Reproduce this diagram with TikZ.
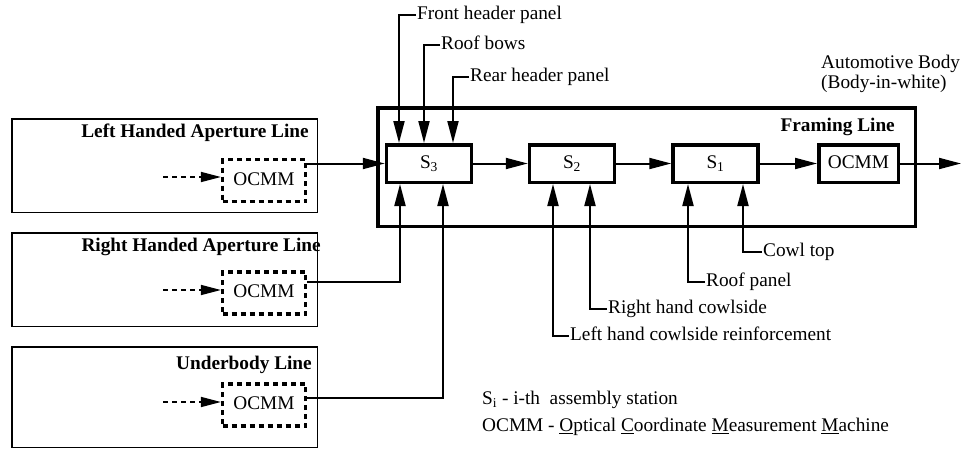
\documentclass[tikz,border=0pt]{standalone}
\usepackage{fontspec}
\setmainfont{Liberation Serif}
\usetikzlibrary{arrows.meta,calc}
\begin{document}
\begin{tikzpicture}[x=1pt,y=-1pt,
  every node/.style={font=\fontsize{19.3}{22}\selectfont, text height=13pt, text depth=4pt},
  station/.style={draw, line width=3.5pt, minimum width=85pt, minimum height=37.5pt, inner sep=0pt},
  linebox/.style={draw, line width=1.5pt, minimum width=305.5pt, inner sep=0pt},
  ocmmdash/.style={draw, line width=3.2pt, dash pattern=on 5pt off 4pt, minimum width=83pt, minimum height=42pt, inner sep=0pt},
  framebox/.style={draw, line width=3.5pt, minimum width=537.5pt, minimum height=118.5pt, inner sep=0pt},
  title/.style={font=\fontsize{19.3}{22}\selectfont\bfseries, inner sep=0pt, anchor=east},
  lbl/.style={inner sep=1pt, anchor=west},
  arr/.style={line width=2pt, -{Triangle[length=22pt,width=11pt]}},
  dasharr/.style={line width=1.6pt, dash pattern=on 5pt off 4pt, -{Triangle[length=20pt,width=10pt]}},
]
\useasboundingbox (0,0) rectangle (962,450);

% left lines
\node[linebox, minimum height=93.5pt] (lh) at (164.5,165.5) {};
\node[linebox, minimum height=93.5pt] (rh) at (164.5,279.5) {};
\node[linebox, minimum height=100.5pt] (ub) at (164.5,397) {};
\node[title] (lht) at (309,133) {Left Handed Aperture Line};
\node[title] (rht) at (321,247) {Right Handed Aperture Line};
\node[title] (ubt) at (312,365) {Underbody Line};
\node[ocmmdash] (lho) at (264,180.5) {OCMM};
\node[ocmmdash] (rho) at (264,293) {OCMM};
\node[ocmmdash] (ubo) at (264,405) {OCMM};
\coordinate (lhin) at (163,177);
\coordinate (rhin) at (163,290);
\coordinate (ubin) at (163,402);
\draw[dasharr] (lhin) -- (lhin -| lho.west);
\draw[dasharr] (rhin) -- (rhin -| rho.west);
\draw[dasharr] (ubin) -- (ubin -| ubo.west);

% framing line
\node[framebox] (fl) at (646.5,167) {};
\node[title] (flt) at (895,127) {Framing Line};
\node[station] (S3) at (429,163.5) {S\textsubscript{3}};
\node[station] (S2) at (572,163.5) {S\textsubscript{2}};
\node[station] (S1) at (715.5,163.5) {S\textsubscript{1}};
\node[station, minimum width=79.5pt] (oc) at (858.5,163.5) {OCMM};
\coordinate (out) at (961,163.5);

\draw[arr] (S3.west -| lho.east) -- (S3.west);
\draw[arr] (S3.east) -- (S2.west);
\draw[arr] (S2.east) -- (S1.west);
\draw[arr] (S1.east) -- (oc.west);
\draw[arr] (oc.east) -- (out);
\draw[arr] ([yshift=11pt]rho.east) -| ([xshift=-29pt]S3.south);
\draw[arr] ([yshift=7pt]ubo.east) -| ([xshift=14pt]S3.south);

% top feeders
\node[lbl] (fhp) at (416,15) {Front header panel};
\node[lbl] (rbw) at (440,45) {Roof bows};
\node[lbl] (rhp) at (469,77) {Rear header panel};
\draw[arr] (fhp.west) -| ([xshift=-30pt]S3.north);
\draw[arr] (rbw.west) -| ([xshift=-5pt]S3.north);
\draw[arr] (rhp.west) -| ([xshift=24pt]S3.north);

% bottom feeders
\node[lbl] (cwt) at (762,252) {Cowl top};
\node[lbl] (rfp) at (705,282) {Roof panel};
\node[lbl] (rhc) at (607,309) {Right hand cowlside};
\node[lbl] (lhc) at (569,336) {Left hand cowlside reinforcement};
\draw[arr] (cwt.west) -| ([xshift=27.5pt]S1.south);
\draw[arr] (rfp.west) -| ([xshift=-27.5pt]S1.south);
\draw[arr] (rhc.west) -| ([xshift=18pt]S2.south);
\draw[arr] (lhc.west) -| ([xshift=-19pt]S2.south);

% output label
\node[lbl, inner sep=0pt] (ab1) at (821,64) {Automotive Body};
\node[lbl, inner sep=0pt] (ab2) at (821,84) {(Body-in-white)};

% legend
\node[lbl, inner sep=0pt] (lg1) at (482,400) {S\textsubscript{i} - i-th\ \ assembly station};
\node[lbl, inner sep=0pt] (lg2) at (482,427) {OCMM - \underline{O}ptical \underline{C}oordinate \underline{M}easurement \underline{M}achine};
\end{tikzpicture}
\end{document}
